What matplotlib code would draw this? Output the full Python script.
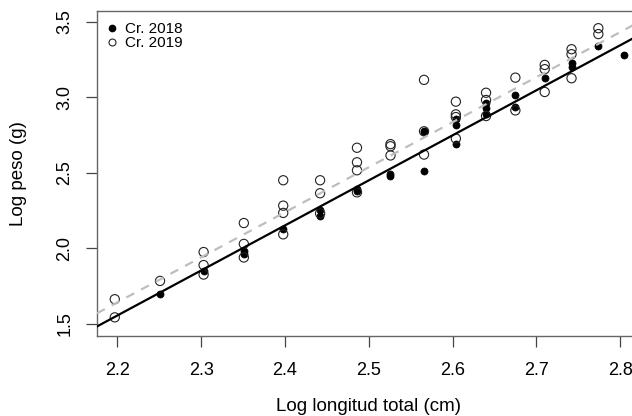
import matplotlib
matplotlib.use("Agg")
import matplotlib.pyplot as plt
from matplotlib.lines import Line2D

plt.rcParams['font.family'] = ['Liberation Sans', 'DejaVu Sans']

# ---- data ----
x2018 = [2.251, 2.303, 2.351, 2.351, 2.398, 2.442, 2.442, 2.486, 2.486,
         2.526, 2.526, 2.566, 2.566, 2.566, 2.604, 2.604, 2.604,
         2.640, 2.640, 2.640, 2.675, 2.675, 2.710, 2.742, 2.742, 2.774, 2.805]
y2018 = [1.700, 1.848, 1.985, 1.963, 2.130, 2.256, 2.212, 2.392, 2.382,
         2.490, 2.482, 2.780, 2.770, 2.512, 2.856, 2.818, 2.692,
         2.965, 2.930, 2.890, 3.015, 2.937, 3.128, 3.230, 3.197, 3.337, 3.278]

x2019 = [2.197, 2.197, 2.251, 2.303, 2.303, 2.303, 2.351, 2.351, 2.351,
         2.398, 2.398, 2.398, 2.398, 2.442, 2.442, 2.442,
         2.486, 2.486, 2.486, 2.486, 2.526, 2.526, 2.526,
         2.566, 2.566, 2.566, 2.604, 2.604, 2.604, 2.604,
         2.640, 2.640, 2.640, 2.675, 2.675, 2.710, 2.710, 2.710,
         2.742, 2.742, 2.742, 2.774, 2.774]
y2019 = [1.664, 1.544, 1.785, 1.976, 1.890, 1.827, 2.168, 2.030, 1.940,
         2.451, 2.283, 2.235, 2.093, 2.451, 2.365, 2.232,
         2.666, 2.570, 2.517, 2.371, 2.690, 2.676, 2.615,
         3.115, 2.775, 2.621, 2.971, 2.887, 2.869, 2.727,
         3.030, 2.982, 2.876, 3.130, 2.913, 3.214, 3.186, 3.035,
         3.318, 3.285, 3.126, 3.457, 3.418]

# regression lines (intercept, slope)
fit2018 = (-5.000, 2.980)
fit2019 = (-4.913, 2.980)

series_labels = ["Cr. 2018", "Cr. 2019"]
xticks = [2.2, 2.3, 2.4, 2.5, 2.6, 2.7, 2.8]
yticks = [1.5, 2.0, 2.5, 3.0, 3.5]
xlabel = "Log longitud total (cm)"
ylabel = "Log peso (g)"

# ---- figure ----
fig = plt.figure(figsize=(6.32, 4.16), dpi=100)
ax = fig.add_axes([97/632, (416-335.7)/416, (640-97)/632, (335.7-11)/416])

ax.scatter(x2018, y2018, s=26, c='black', edgecolors='black', linewidths=0.5, zorder=2)
ax.scatter(x2019, y2019, s=44, facecolors='none', edgecolors='#222222', linewidths=0.8, zorder=3)

ax.axline((0, fit2018[0]), slope=fit2018[1], color='black', lw=1.6, zorder=4)
ax.axline((0, fit2019[0]), slope=fit2019[1], color='#BEBEBE', lw=1.6,
          dashes=(4, 3.5), zorder=4)

ax.set_xlim(2.1758, 2.8237)
ax.set_ylim(1.4226, 3.5708)

ax.set_xticks(xticks)
ax.set_xticklabels([f"{v:.1f}" for v in xticks])
ax.set_yticks(yticks)
ax.set_yticklabels([f"{v:.1f}" for v in yticks], rotation=90, va='center')
ax.tick_params(axis='both', direction='out', length=8, width=0.9, color='#444444',
               labelsize=13)
ax.tick_params(axis='x', pad=11)
ax.tick_params(axis='y', pad=9)

for side in ['left', 'bottom', 'top']:
    ax.spines[side].set_color('#666666')
    ax.spines[side].set_linewidth(1.0)
ax.spines['right'].set_visible(False)

ax.set_xlabel(xlabel, fontsize=13.5, labelpad=13.5)
ax.set_ylabel(ylabel, fontsize=13.5, labelpad=21)

handles = [Line2D([], [], ls='none', marker='o', color='black', markersize=4.5),
           Line2D([], [], ls='none', marker='o', markerfacecolor='none',
                  markeredgecolor='#222222', markersize=5, markeredgewidth=0.8)]
ax.legend(handles, series_labels, loc='upper left', bbox_to_anchor=(0.0, 0.99),
          frameon=False, fontsize=11, handlelength=1.0, handletextpad=0.3,
          labelspacing=0.0, borderaxespad=0.3, borderpad=0.2)

fig.savefig("out.png", dpi=100)
